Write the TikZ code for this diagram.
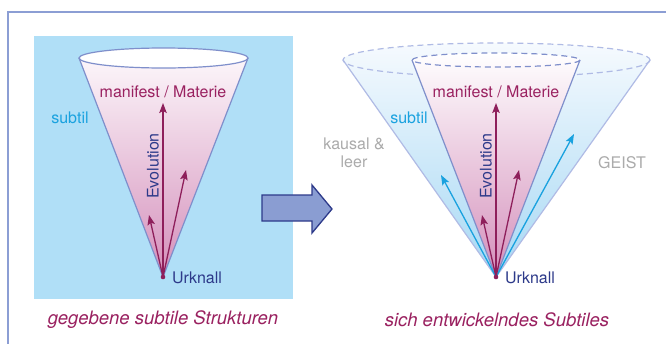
\documentclass[tikz,border=0pt]{standalone}
\usepackage{fontspec}
\setmainfont{TeX Gyre Heros}
\usetikzlibrary{arrows.meta}
\definecolor{frameblue}{HTML}{8C9ED4}
\definecolor{panelblue}{HTML}{B0DFF7}
\definecolor{coneedge}{HTML}{7F8FCB}
\definecolor{outeredge}{HTML}{B0BBE5}
\definecolor{pinkbot}{HTML}{D48FBB}
\definecolor{pinktop}{HTML}{FCF6FA}
\definecolor{bluebot}{HTML}{A6D8F4}
\definecolor{bluetop}{HTML}{F6FAFE}
\definecolor{wine}{HTML}{8E1F5B}
\definecolor{winetext}{HTML}{9A2160}
\definecolor{navy}{HTML}{2D3A8A}
\definecolor{cyanc}{HTML}{1AA2DF}
\definecolor{greytext}{HTML}{ABABAB}
\definecolor{arrowfill}{HTML}{8A9DD2}
\tikzset{
  lbl/.style={inner sep=0pt, font=\fontsize{16}{18}\selectfont},
  captext/.style={inner sep=0pt, font=\fontsize{18.5}{21}\selectfont\itshape, text=winetext},
  redarrow/.style={wine, line width=1.3pt, -{Stealth[length=10pt,width=7.5pt,inset=2pt]}},
  cyanarrow/.style={cyanc, line width=1.3pt, -{Stealth[length=10pt,width=7.5pt,inset=2pt]}},
  edgeline/.style={coneedge, line width=1.2pt},
  dashring/.style={dash pattern=on 6pt off 4pt, line width=1.2pt},
}
\begin{document}
\begin{tikzpicture}[x=1pt,y=-1pt]
\useasboundingbox (0,0) rectangle (666,343);
\fill[white] (0,0) rectangle (666,343);
% frame
\draw[frameblue, line width=1.6pt] (8,345) -- (8,12) -- (668,12);
% left panel
\fill[panelblue] (34,36) rectangle (293,299);
% ---------- left cone ----------
\coordinate (apexL) at (163,277);
\shade[top color=pinktop, bottom color=pinkbot] (79,58) -- (apexL) -- (248,58) -- cycle;
\draw[edgeline] (79,58) -- (apexL) -- (248,58);
\draw[edgeline, fill=white] (163.5,58) ellipse [x radius=84.5, y radius=10];
\draw[redarrow] (apexL) -- (163,103);
\draw[redarrow] (apexL) -- (149,215);
\draw[redarrow] (apexL) -- (186,170);
\fill[wine] (apexL) circle (2.3);
\node[lbl, text=winetext] (manL) at (163,92) {manifest / Materie};
\node[lbl, text=navy, rotate=90] (evoL) at (153,166) {Evolution};
\node[lbl, text=cyanc] (subL) at (70,118) {subtil};
\node[lbl, text=navy, anchor=west] (urkL) at (172,278) {Urknall};
\node[captext] (capL) at (163,320) {gegebene subtile Strukturen};
% ---------- block arrow ----------
\draw[navy, fill=arrowfill, line width=1.3pt, line join=miter]
  (262,195) -- (312,195) -- (312,185) -- (332,209) -- (312,233) -- (312,221) -- (262,221) -- cycle;
% ---------- right cone ----------
\coordinate (apexR) at (496,277);
\shade[top color=bluetop, bottom color=bluebot]
  (343,60) -- (apexR) -- (650,60) arc[start angle=0, end angle=-180, x radius=153.5, y radius=17] -- cycle;
\draw[outeredge, dashring] (496.5,60) ellipse [x radius=153.5, y radius=17];
\draw[outeredge, line width=1.2pt] (343,60) -- (apexR) -- (650,60);
\shade[top color=white, bottom color=pinkbot]
  (412,60) -- (apexR) -- (580,60) arc[start angle=0, end angle=-180, x radius=84, y radius=7] -- cycle;
\draw[edgeline] (412,60) -- (apexR) -- (580,60);
\draw[coneedge, dashring] (496,60) ellipse [x radius=84, y radius=7];
\draw[cyanarrow] (apexR) -- (441,175);
\draw[cyanarrow] (apexR) -- (574,134);
\draw[redarrow] (apexR) -- (496,103);
\draw[redarrow] (apexR) -- (482,215);
\draw[redarrow] (apexR) -- (519,170);
\fill[wine] (apexR) circle (2.3);
\node[lbl, text=winetext] (manR) at (496,92) {manifest / Materie};
\node[lbl, text=navy, rotate=90] (evoR) at (486,166) {Evolution};
\node[lbl, text=cyanc] (subR) at (409,118) {subtil};
\node[lbl, text=navy, anchor=west] (urkR) at (505,278) {Urknall};
\node[lbl, text=greytext, align=center] (kausal) at (354,153) {kausal \&\\leer};
\node[lbl, text=greytext] (geist) at (622,163) {GEIST};
\node[captext] (capR) at (497,320) {sich entwickelndes Subtiles};
\end{tikzpicture}
\end{document}
